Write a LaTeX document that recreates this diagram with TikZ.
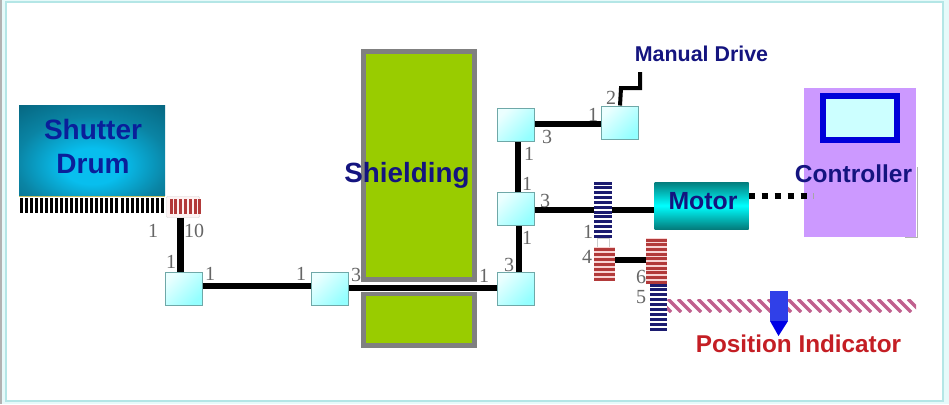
\documentclass[tikz,border=0pt]{standalone}
\usepackage{fontspec}
\setmainfont{Liberation Sans}
\newfontfamily\numfont{Liberation Serif}
\usetikzlibrary{positioning}
\definecolor{shieldgreen}{HTML}{99CC00}
\definecolor{shieldgray}{HTML}{808080}
\definecolor{ctrlpurple}{HTML}{CC99FF}
\definecolor{screencyan}{HTML}{CCFFFF}
\definecolor{navytext}{HTML}{14147F}
\definecolor{drumtext}{HTML}{0A1F9A}
\definecolor{redtext}{HTML}{C41E24}
\definecolor{gearblue}{HTML}{1C1C70}
\definecolor{gearred}{HTML}{B23A3A}
\definecolor{gearpink}{HTML}{F8D4D4}
\definecolor{rackpink}{HTML}{C0608E}
\definecolor{framecyan}{HTML}{B4E6E6}
\definecolor{framepale}{HTML}{E6FAFA}
\definecolor{motorteal}{HTML}{047C7C}
\definecolor{boxedge}{HTML}{6FA8A8}
\definecolor{pointerblue}{HTML}{3040E8}
\definecolor{drumbright}{HTML}{08BEEE}
\definecolor{drummid}{HTML}{0A84A4}
\definecolor{drumdark}{HTML}{045A72}
\pgfdeclareradialshading{drumglow}{\pgfpoint{0bp}{-10bp}}{
  color(0bp)=(drumbright); color(10bp)=(drumbright); color(26bp)=(drummid); color(46bp)=(drumdark); color(100bp)=(drumdark)}
\tikzset{
  shaft/.style={line width=6.4pt, black},
  gearbox/.style={draw=boxedge, line width=1pt, minimum width=37pt, minimum height=33pt,
    inner sep=0pt, shading=axis, left color=cyan!8, right color=cyan!42, shading angle=45},
  num/.style={text=black!60, inner sep=0pt, font=\numfont\fontsize{20}{20}\selectfont},
  title/.style={inner sep=0pt, align=center, font=\bfseries\fontsize{#1}{#1}\selectfont},
  hstripes/.style={line width=3pt}
}
\begin{document}
\begin{tikzpicture}[x=1pt, y=-1pt]
  % Rahmen
  \useasboundingbox (0,0) rectangle (949,404);
  \fill[framepale] (0,0) rectangle (949,404);
  \fill[white] (6,2) rectangle (943,401);
  \draw[framecyan, line width=2pt] (6,2) -- (943,2) -- (943,401) -- (6,401) -- cycle;
  \draw[gray!60, line width=1.5pt] (0.75,0) -- (0.75,404);

  % Stinění
  \draw[fill=shieldgreen, draw=shieldgray, line width=5pt] (363.5,51.5) rectangle (474.5,279.5);
  \draw[fill=shieldgreen, draw=shieldgray, line width=5pt] (363.5,293.5) rectangle (474.5,345.5);

  % Buben a ozubení
  \node[minimum width=146pt, minimum height=90pt, inner sep=0pt, shading=drumglow]
    (drum) at (92,150) {};
  \node[title=28, text=drumtext] at (93,146) {Shutter\\[6pt]Drum};
  \draw[yellow!50!gray, line width=0.8pt] (19,196.5) -- (165,196.5);
  \foreach \x in {0,...,28} {
    \draw[black, line width=3pt] (21+5.05*\x,198) -- (21+5.05*\x,213);
  }
  \node[draw=gray!35, fill=gearpink!30, rounded corners=1pt, minimum width=33pt, minimum height=21pt, inner sep=0pt] (pinion) at (183,207) {};
  \foreach \x in {0,...,6} {
    \draw[gearred, line width=3pt] (171+4.8*\x,199) -- (171+4.8*\x,214);
  }

  % Převodovky
  \node[gearbox] (boxa) at (183.5,288.5) {};
  \node[gearbox] (boxb) at (330,288.5) {};
  \node[gearbox] (boxc) at (515.5,288.5) {};
  \node[gearbox] (boxd) at (516,208.5) {};
  \node[gearbox] (boxe) at (516,125) {};
  \node[gearbox] (boxf) at (620,122.5) {};
  \node[minimum width=94pt, minimum height=47pt, inner sep=0pt, top color=motorteal, bottom color=motorteal, middle color=cyan]
    (motor) at (701.5,205.5) {};
  \node[title=24.8, text=navytext] at (703,201) {Motor};

  % Hřídele
  \coordinate (crank) at (640,72);
  \draw[shaft] (pinion.south -| 180.5,0) -- (boxa.north -| 180.5,0);
  \draw[shaft] (boxa.east |- 0,286) -- (boxb.west |- 0,286);
  \draw[white, line width=8pt] (349,287.5) -- (497,287.5);
  \draw[shaft] (boxb.east |- 0,288) -- (boxc.west |- 0,288);
  \draw[shaft] (boxc.north -| 519,0) -- (boxd.south -| 519,0);
  \draw[shaft] (boxd.north -| 518,0) -- (boxe.south -| 518,0);
  \draw[shaft] (boxe.east |- 0,124) -- (boxf.west |- 0,124);
  \draw[shaft] (boxd.east |- 0,210) -- (motor.west |- 0,210);
  \draw[black, line width=4pt] (boxf.north) -- (621,88) -- (640,88) -- (crank);
  \draw[shaft] (615,260) -- (646,260);

  % Ozubená kola
  \draw[gray!40, line width=1pt] (597.5,247) -- (597.5,238.5) -- (609.5,238.5) -- (609.5,247);
  \fill[white] (594,181) rectangle (612,238);
  \fill[gearpink] (594,247) rectangle (615,280);
  \fill[gearpink] (646,238) rectangle (667,283);
  \foreach \y in {0,...,11} {
    \draw[gearblue, hstripes] (594,183+4.85*\y) -- (612,183+4.85*\y);
  }
  \foreach \y in {0,...,6} {
    \draw[gearred, hstripes] (594,249+5*\y) -- (615,249+5*\y);
  }
  \foreach \y in {0,...,9} {
    \draw[gearred, hstripes] (646,240+4.7*\y) -- (667,240+4.7*\y);
  }
  \foreach \y in {0,...,9} {
    \draw[gearblue, hstripes] (650,285+4.95*\y) -- (667,285+4.95*\y);
  }

  % Ukazatel polohy
  \begin{scope}
    \clip (667,299) rectangle (916,312);
    \foreach \x in {0,...,25} {
      \draw[rackpink, line width=3.2pt] (658+10*\x,299) -- (671+10*\x,312);
    }
  \end{scope}
  \fill[pointerblue] (770,291) rectangle (788,321);
  \fill[blue!90!black] (770,321) -- (788,321) -- (778.5,336) -- cycle;

  % Řídicí jednotka
  \draw[gray!60, line width=1pt] (917.5,167) -- (917.5,237.5) -- (905,237.5);
  \node[fill=ctrlpurple, minimum width=112pt, minimum height=149pt, inner sep=0pt] (ctrl) at (860,162.5) {};
  \draw[fill=screencyan, draw=blue!85!black, line width=6pt] (823,96) rectangle (897,140);
  \coordinate (ctrlport) at (807,196);
  \draw[black, line width=5.5pt, dash pattern=on 6pt off 7pt] (motor.east |- ctrlport) -- (ctrlport);
  \draw[gray!70, line width=1pt] (813.5,193) -- (813.5,199);

  % Popisky
  \node[title=27.8, text=navytext] at (407,175) {Shielding};
  \node[title=24.5, text=navytext] at (853.5,174) {Controller};
  \node[title=21.4, text=navytext] at (701.5,54) {Manual Drive};
  \node[title=24.3, text=redtext] at (798.5,344) {Position Indicator};
  \foreach \x/\y/\t in {153/231/1, 194/231/10, 171/262/1, 210/274/1, 301/274/1, 356/275/3, 484/276/1,
      509/265/3, 527/238/1, 545/201/3, 527/184/1, 529/154/1, 547/137/3, 593/115/1, 611/98/2,
      588/232/1, 587/257/4, 641/277/6, 641/297/5} {
    \node[num] at (\x,\y) {\t};
  }
\end{tikzpicture}
\end{document}
